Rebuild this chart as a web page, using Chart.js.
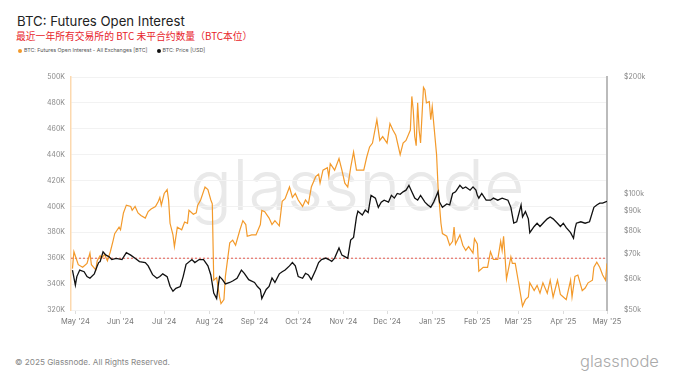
<!DOCTYPE html>
<html><head><meta charset="utf-8">
<script src="https://cdn.jsdelivr.net/npm/chart.js@4"></script>
<style>
html,body{margin:0;padding:0;background:#fff}
body{width:680px;height:383px;overflow:hidden;position:relative;font-family:Inter,"Noto Sans",sans-serif}
#chart{position:absolute;left:0;top:0;z-index:2}
.title{position:absolute;left:17px;top:13px;font-size:13.2px;color:#222;white-space:nowrap;font-family:Inter,sans-serif}
.sub{position:absolute;left:16px;top:29px;font-size:9.8px;color:#e8242b;white-space:nowrap;font-family:"Noto Sans CJK SC",sans-serif}
.legend{position:absolute;left:18px;top:47px;font-size:5.3px;color:#555;white-space:nowrap}
.legend span{display:inline-block;margin-right:9px}
.legend i{display:inline-block;width:4px;height:4px;border-radius:50%;margin-right:2px;vertical-align:middle}
.wm{position:absolute;left:190px;top:150px;font-size:70px;line-height:70px;color:#e9e9e9;font-weight:300;z-index:1;white-space:nowrap}
.foot{position:absolute;left:15px;top:357px;font-size:8.2px;color:#888;white-space:nowrap}
.logo{position:absolute;left:580px;top:351px;font-size:16.5px;color:#aaa;font-weight:300;white-space:nowrap}
</style></head>
<body>
<div class="title">BTC: Futures Open Interest</div>
<div class="sub">最近一年所有交易所的 BTC 未平合约数量（BTC本位）</div>
<div class="legend"><span><i style="background:#f39a2b"></i>BTC: Futures Open Interest - All Exchanges [BTC]</span><span><i style="background:#111"></i>BTC: Price [USD]</span></div>
<div class="wm">glassnode</div>
<canvas id="chart" width="680" height="383"></canvas>
<div class="foot">© 2025 Glassnode. All Rights Reserved.</div>
<div class="logo">glassnode</div>
<script>
// days counted from 2024-05-01
const monthTickDays = [0,31,61,92,123,153,184,214,245,276,304,335,365];
const monthTickLabels = ["May '24","Jun '24","Jul '24","Aug '24","Sep '24","Oct '24","Nov '24","Dec '24","Jan '25","Feb '25","Mar '25","Apr '25","May '25"];
const oiTickMin = 320, oiTickMax = 500, oiTickStep = 20;
const priceTicks = [50,60,70,80,90,100,200];
const priceTickLabels = ['$50k','$60k','$70k','$80k','$90k','$100k','$200k'];
const refLevel = 360;

// Futures open interest, thousand BTC
const oiDays = [-2,-1,2,5,8,10,11,14,15,17,18,20,22,24,26,27,30,31,33,35,38,39,41,43,45,48,50,52,55,57,58,59,61,63,64,65,67,68,70,73,75,77,78,81,83,84,86,89,91,93,94,95,97,99,100,102,103,106,108,110,113,115,117,118,121,124,
127,128,130,133,135,137,140,142,144,147,149,151,153,156,158,160,162,165,167,168,170,173,174,175,178,181,183,185,187,189,191,193,195,198,200,202,204,207,208,209,211,214,216,218,220,223,225,227,230,231,232,233,234,235,236,237,239,240,241,243,244,245,248,249,251,252,255,257,259,260,261,264,266,268,270,273,274,276,277,280,
283,285,287,290,292,293,294,295,296,299,300,302,304,307,309,311,312,315,317,319,321,324,326,328,331,333,335,337,340,341,343,345,348,350,352,355,356,358,360,362,364,365];
const oiValues = [352,365,355,353,356,364,355,351,358,362,360,363,358,365,374,379,384,382,395,401,400,397,400,395,393,391,396,398,400,404,407,401,410,413,405,387,378,369,384,382,388,387,397,394,395,401,405,415,413,405,402,343,345,330,325,328,346,372,374,370,382,389,386,377,378,378,
386,397,396,391,386,389,385,404,406,415,407,410,405,400,405,402,415,423,425,418,428,430,423,433,428,437,428,418,415,430,442,428,428,428,438,446,449,467,459,451,454,449,464,459,455,440,449,451,459,485,474,454,447,480,459,449,492,490,480,481,467,477,440,415,387,379,377,370,373,384,371,378,370,366,369,364,375,371,350,353,
353,365,359,359,373,366,377,361,344,361,356,356,343,323,328,330,341,335,339,333,341,333,343,330,343,332,330,328,343,330,346,347,335,337,341,343,353,357,353,347,343,356];

// BTC price, thousand USD
const priceDays = [-2,0,1,3,6,8,10,13,15,16,17,19,21,23,25,28,32,35,38,41,44,48,50,53,56,58,60,63,65,67,69,72,74,76,80,82,85,88,91,93,95,97,98,99,101,103,106,108,111,114,116,119,123,125,
127,128,131,133,135,137,140,142,144,147,149,151,153,156,158,160,162,165,167,169,172,174,176,178,181,183,185,187,189,191,193,194,197,199,201,203,206,208,210,212,215,217,219,221,223,225,227,229,231,233,235,237,240,242,244,246,248,249,250,252,255,257,259,261,264,266,268,271,273,275,276,277,279,
282,285,287,290,293,297,299,301,303,306,307,309,311,312,315,317,319,322,324,326,328,331,333,335,337,340,342,343,344,347,350,353,356,358,360,362,365];
const priceValues = [63.4,58,61,63.4,62.8,61,60.4,62,65,66.3,66.7,70.7,69.3,68.7,67.5,68,67.5,70.3,69.3,68,66.7,66.3,65,61.7,60.4,61,62,61,57.6,55.9,56.9,57.5,61,65.6,67.5,66.3,67.5,67.5,65,61.6,55.3,53.5,57.5,61,59.9,58.4,58.9,59.4,60.4,63.4,62.2,59.9,58.9,57.5,
56.5,53.5,56.5,57.5,60.5,58.9,62,62.8,63.4,65,66.3,65,61,60.4,62.2,61.6,59.9,63.4,66.3,67.5,68.1,67.5,66.8,68.1,72.3,69.3,68.7,68,75.8,77,87,90,88,90.6,89.3,98.9,97.3,92.1,95,96.1,95,98.9,97.3,100,99.5,101,102,105,101,97.3,96.1,98.9,95,93.4,92.1,95,98.9,101,95,92.1,94,93.4,100,101,105,103,104,102,104,102,98.9,97.3,100,
96.1,96.1,97.3,96.1,97.3,96.1,92.1,83.9,84.5,93.4,87,89.8,86,79.2,82.2,83.8,82.2,84.5,86,87,86,83.8,82.2,83.8,81.6,79.2,76.6,81,83.8,84.5,83.8,84.5,92.1,93.4,94.4,94.4,95.5];

const toPts = (xs, ys) => xs.map((x, i) => ({x, y: ys[i]}));

new Chart(document.getElementById('chart').getContext('2d'), {
  type: 'line',
  data: {
    datasets: [
      {label: 'Reference', data: [{x: -3, y: refLevel}, {x: 365, y: refLevel}], yAxisID: 'y',
       borderColor: '#e2574c', borderWidth: 1, borderDash: [2, 2], pointRadius: 0, order: 3},
      {label: 'BTC: Futures Open Interest - All Exchanges [BTC]', data: toPts(oiDays, oiValues), yAxisID: 'y',
       borderColor: '#f39a2b', borderWidth: 1.2, pointRadius: 0, tension: 0, order: 2},
      {label: 'BTC: Price [USD]', data: toPts(priceDays, priceValues), yAxisID: 'y1',
       borderColor: '#111111', borderWidth: 1.3, pointRadius: 0, tension: 0, order: 1}
    ]
  },
  options: {
    responsive: false, animation: false,
    layout: {padding: {top: 77, left: 0, right: 0, bottom: 0}},
    plugins: {legend: {display: false}, tooltip: {enabled: false}, title: {display: false}},
    scales: {
      x: {
        type: 'linear', min: -3, max: 365,
        afterBuildTicks: s => { s.ticks = monthTickDays.map(v => ({value: v})); },
        afterFit: s => { s.height = 73; },
        ticks: {callback: (v, i) => monthTickLabels[i], maxRotation: 0, autoSkip: false,
                font: {size: 7.5, family: 'Inter, sans-serif'}, color: '#777', padding: 3},
        grid: {drawOnChartArea: false, tickLength: 4, color: '#dddddd'},
        border: {display: false}
      },
      y: {
        position: 'left', min: oiTickMin, max: oiTickMax,
        afterFit: s => { s.width = 71; },
        ticks: {stepSize: oiTickStep, callback: v => v + 'K', font: {size: 7, family: 'Inter, sans-serif'}, color: '#888', padding: 6},
        grid: {color: '#f2f2f2', drawTicks: false},
        border: {color: 'rgba(247,147,26,0.35)', width: 1.5}
      },
      y1: {
        type: 'logarithmic', position: 'right', min: 50, max: 200,
        afterFit: s => { s.width = 73; },
        afterBuildTicks: s => { s.ticks = priceTicks.map(v => ({value: v})); },
        ticks: {callback: (v) => priceTickLabels[priceTicks.indexOf(v)], font: {size: 7, family: 'Inter, sans-serif'}, color: '#888', padding: 9},
        grid: {display: false},
        border: {display: true, color: '#bbbbbb', width: 2}
      }
    }
  }
});
</script>
</body></html>
